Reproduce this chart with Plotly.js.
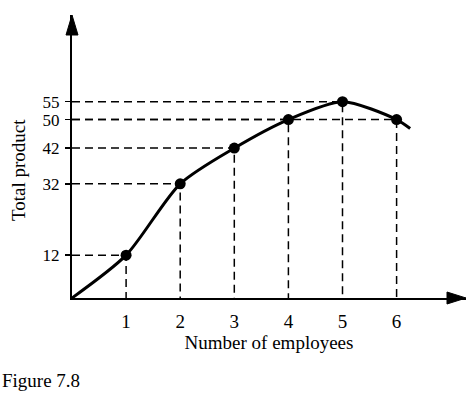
<!DOCTYPE html>
<html>
<head>
<meta charset="utf-8">
<script src="https://cdn.plot.ly/plotly-3.0.1.min.js"></script>
<style>html,body{margin:0;padding:0;background:#fff;}#chart{width:470px;height:393px;}</style>
</head>
<body>
<div id="chart"></div>
<script>
// Data
const employees = [1, 2, 3, 4, 5, 6];
const totalProduct = [12, 32, 42, 50, 55, 50];
// full curve (includes origin and the tail past 6)
const curveX = [0, 1, 2, 3, 4, 5, 6, 6.25];
const curveY = [0, 12, 32, 42, 50, 55, 50, 47.5];
const yTickVals = [12, 32, 42, 50, 55];
const xTickVals = [1, 2, 3, 4, 5, 6];

const fam = '"Liberation Serif", "Times New Roman", serif';
const font = {family: fam, size: 19, color: '#000'};
const tickFont = {family: fam, size: 17, color: '#000'};

// dashed guide lines: from y-axis to point to x-axis
const guideX = [], guideY = [];
employees.forEach((x, i) => {
  guideX.push(0, x, x, null);
  guideY.push(totalProduct[i], totalProduct[i], 0, null);
});

const traces = [
  {x: guideX, y: guideY, mode: 'lines', line: {color: '#000', width: 1.5, dash: '8px,5px'}, hoverinfo: 'skip', cliponaxis: false},
  {x: curveX, y: curveY, mode: 'lines', line: {color: '#000', width: 3, shape: 'spline', smoothing: 0.75}, hoverinfo: 'skip'},
  {x: employees, y: totalProduct, mode: 'markers', marker: {color: '#000', size: 11}, hoverinfo: 'skip', cliponaxis: false}
];

const L = 72, R = 4, T = 15, B = 95;
const W = 470, H = 393;
const pw = W - L - R, ph = H - T - B;
const px = v => v / pw, py = v => v / ph;

const layout = {
  width: W, height: H,
  margin: {l: L, r: R, t: T, b: B},
  paper_bgcolor: '#fff', plot_bgcolor: '#fff',
  showlegend: false,
  font: font,
  xaxis: {
    range: [0, pw / 54.1], showgrid: false, zeroline: false,
    showline: true, linecolor: '#000', linewidth: 2,
    tickvals: xTickVals, ticktext: xTickVals.map(String), ticks: '',
    ticklabelstandoff: 5,
    tickfont: font,
    title: {text: 'Number of employees', font: font, standoff: 4},
    fixedrange: true
  },
  yaxis: {
    range: [0, ph / 3.569], showgrid: false, zeroline: false,
    showline: true, linecolor: '#000', linewidth: 2,
    tickvals: yTickVals, ticktext: yTickVals.map(String), ticks: 'outside', ticklen: 5, tickwidth: 1.5, tickcolor: '#000',
    ticklabelstandoff: 2,
    tickfont: tickFont,
    fixedrange: true
  },
  shapes: [
    {type: 'path', xref: 'paper', yref: 'paper',
     path: `M 0 1 L ${-px(6)} ${1 - py(20)} L ${px(6)} ${1 - py(20)} Z`,
     fillcolor: '#000', line: {color: '#000', width: 1}},
    {type: 'path', xref: 'paper', yref: 'paper',
     path: `M 1 0 L ${1 - px(19)} ${py(6)} L ${1 - px(19)} ${-py(6)} Z`,
     fillcolor: '#000', line: {color: '#000', width: 1}}
  ],
  annotations: [
    {text: 'Total product', xref: 'paper', yref: 'paper', x: -px(L - 18), y: (298 - 170) / ph,
     xanchor: 'center', yanchor: 'middle', textangle: -90, showarrow: false, font: font},
    {text: 'Figure 7.8', xref: 'paper', yref: 'paper', x: -px(L), y: -py(82), xanchor: 'left', yanchor: 'middle',
     showarrow: false, font: font}
  ]
};

Plotly.newPlot('chart', traces, layout, {displayModeBar: false, staticPlot: true});
</script>
</body>
</html>
